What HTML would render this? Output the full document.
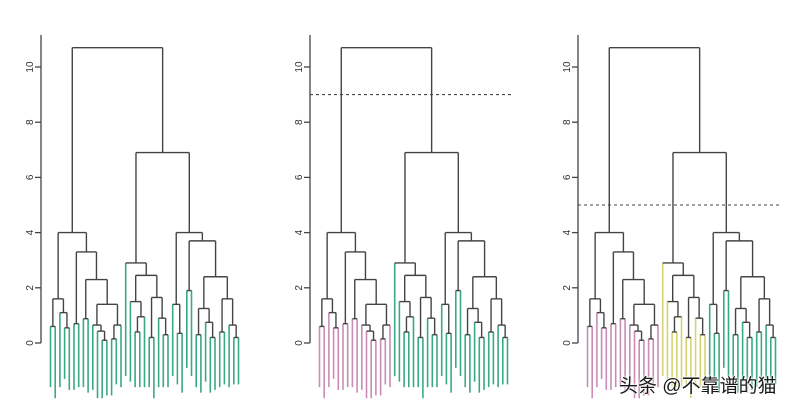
<!DOCTYPE html>
<html><head><meta charset="utf-8"><style>
body{margin:0;background:#fff;}
svg{display:block;font-family:"Liberation Sans",sans-serif;}
.wm{position:absolute;left:619px;top:371px;font-family:"Liberation Sans","Noto Sans CJK SC",sans-serif;font-size:19px;color:#1a1a1a;text-shadow:0 0 2px #fff,0 0 2px #fff,0 0 3px #fff;}
</style></head><body>
<div style="position:relative;width:800px;height:409px;overflow:hidden">
<svg id="c" width="800" height="409"></svg>
<div class="wm">头条 @不靠谱的猫</div>
</div>
<script>
const L = null;
const tree = [10.7,
 [4.0,
   [1.6, [0.6,L,L], [1.1,L,[0.55,L,L]]],
   [3.3, [0.7,L,L], [2.3, [0.88,L,L], [1.4, [0.65,L,[0.43,L,[0.1,L,L]]], [0.65,[0.15,L,L],L]]]]],
 [6.9,
   [2.9, L, [2.45, [1.5, L, [0.95,[0.4,L,L],L]], [1.65,[0.2,L,L],[0.9,L,[0.3,L,L]]]]],
   [4.0, [1.4,L,[0.35,L,L]], [3.7,[1.9,L,L],[2.4,[1.25,[0.3,L,L],[0.75,L,[0.2,L,L]]],[1.6,[0.4,L,L],[0.65,L,[0.2,L,L]]]]]]]];
const leafBottoms = [-1.6,-2.0,-1.6,-1.3,-1.7,-1.7,-1.6,-1.6,-1.8,-1.7,-2.0,-2.0,-1.9,-1.9,-1.5,-1.6,
 -1.2,-1.4,-1.6,-1.6,-1.6,-1.6,-2.0,-1.6,-1.6,-1.6,
 -1.2,-1.5,-1.8,-0.9,-1.2,-1.6,-1.8,-1.4,-1.8,-1.7,-1.6,-1.5,-1.6,-1.5,-1.5];
const clusterSizes = [16,10,15];
const yTicks = [0,2,4,6,8,10];
const cutHeights = [null, 9.0, 5.0];
const panelColors = [["#3aa882","#3aa882","#3aa882"],["#c98db5","#3aa882","#3aa882"],["#c98db5","#d6d374","#3aa882"]];
const panelOffsets = [0,269,537];

const svg = document.getElementById('c');
const NS = 'http://www.w3.org/2000/svg';
function y(h){return 343 - h*27.6;}
function mk(tag, attrs){const e=document.createElementNS(NS,tag);for(const k in attrs)e.setAttribute(k,attrs[k]);svg.appendChild(e);return e;}
function clusterOf(i){let s=0;for(let c=0;c<clusterSizes.length;c++){s+=clusterSizes[c];if(i<s)return c;}return clusterSizes.length-1;}

for(let p=0;p<3;p++){
  const off = panelOffsets[p];
  const ax = 41+off;
  let a = mk('line',{x1:ax,y1:35,x2:ax,y2:y(0),stroke:'#444','stroke-width':1.3});
   
  yTicks.forEach(t=>{
    const tk = mk('line',{x1:ax-6,y1:y(t),x2:ax,y2:y(t),stroke:'#444','stroke-width':1.3});
     
    const tx = mk('text',{x:ax-7,y:y(t),'font-size':10,fill:'#333','text-anchor':'middle',transform:`rotate(-90 ${ax-7} ${y(t)})`,dy:-1});
    tx.textContent = t;
     
  });
  let idx = 0;
  const x0 = 50.5+off, sp = 4.7;
  function draw(node, parentH){
    if(node===null){
      const i = idx++;
      const x = x0 + i*sp;
      const ln = mk('line',{x1:x,y1:y(parentH),x2:x,y2:y(leafBottoms[i]),stroke:panelColors[p][clusterOf(i)],'stroke-width':1.6});
       
      return x;
    }
    const h = node[0];
    const xl = draw(node[1], h), xr = draw(node[2], h);
    const hz = mk('line',{x1:xl,y1:y(h),x2:xr,y2:y(h),stroke:'#444','stroke-width':1.4});
     
    const xm = (xl+xr)/2;
    if(parentH!==null){
      const v = mk('line',{x1:xm,y1:y(parentH),x2:xm,y2:y(h),stroke:'#444','stroke-width':1.4});
       
    }
    return xm;
  }
  draw(tree, null);
  if(cutHeights[p]!==null){
    const d = mk('line',{x1:ax,y1:y(cutHeights[p]),x2:ax+203,y2:y(cutHeights[p]),stroke:'#444','stroke-width':1.1,'stroke-dasharray':'3,3'});
     
  }
}
</script>
</body></html>
